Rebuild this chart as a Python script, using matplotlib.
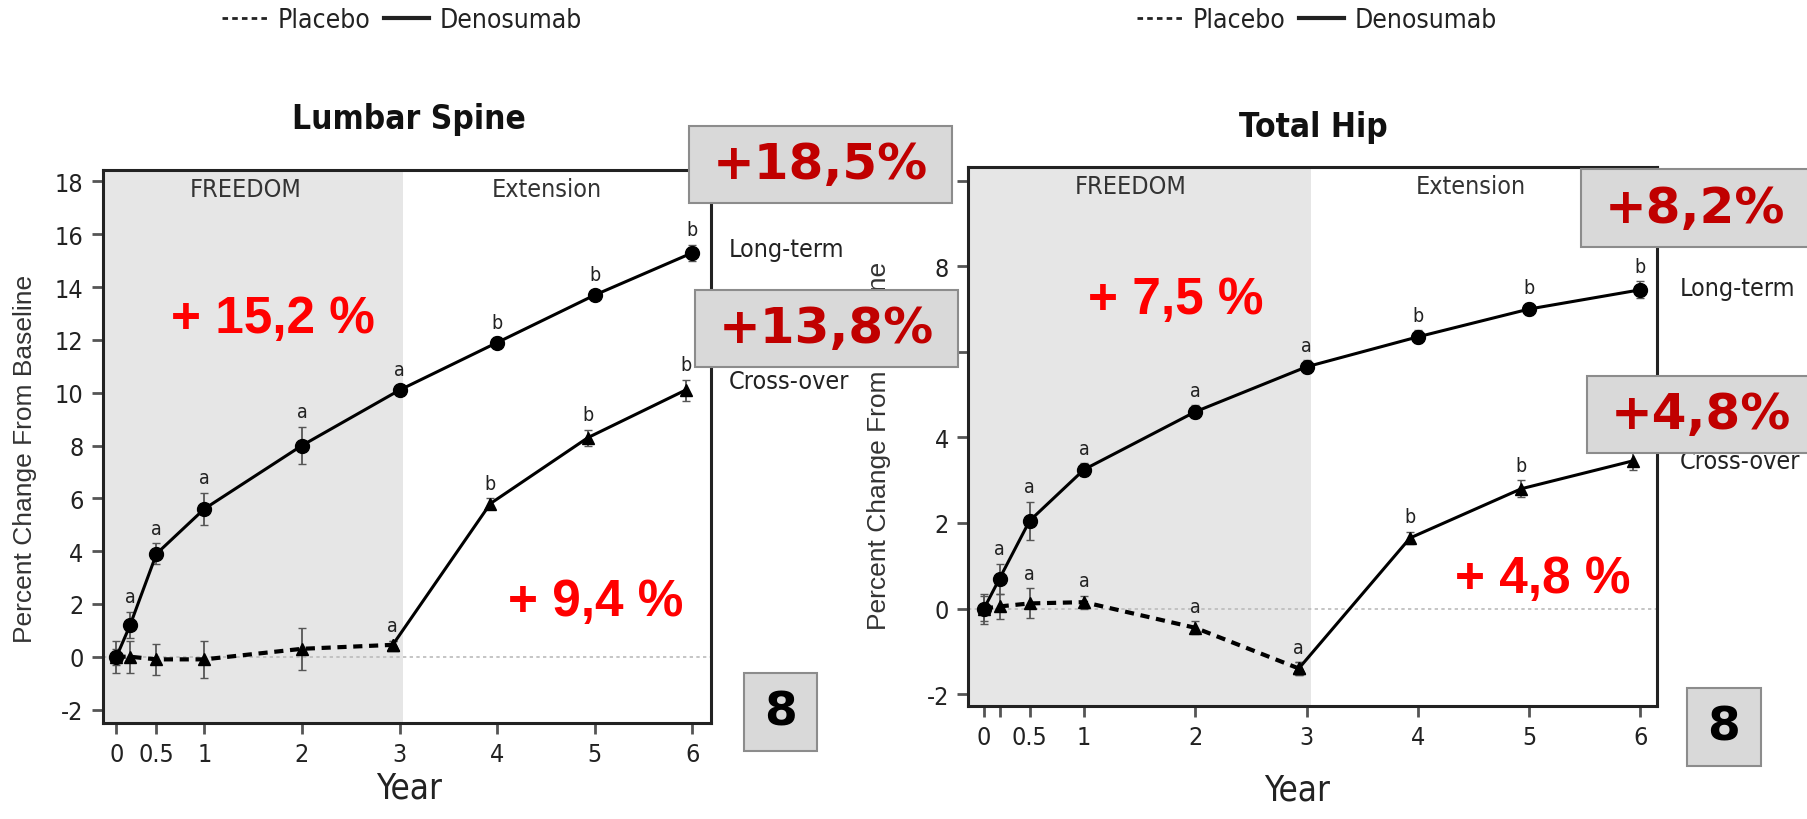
import numpy as np
import matplotlib.pyplot as plt
from matplotlib import font_manager as fm
from matplotlib.patches import Rectangle
from matplotlib.lines import Line2D

W, H = 1808, 820


def narrow_font():
    # SAS-style condensed lettering; take the narrowest face that is around
    for name in ['Liberation Sans Narrow', 'Arial Narrow']:
        try:
            fm.findfont(fm.FontProperties(family=name), fallback_to_default=False)
            return name, 'normal'
        except ValueError:
            pass
    return 'DejaVu Sans', 'condensed'


NARROW, STRETCH = narrow_font()
plt.rcParams['font.family'] = [NARROW, 'DejaVu Sans']
plt.rcParams['font.stretch'] = STRETCH

# ---------------- data ----------------
freedom_years = [0, 1 / 12, 0.5, 1, 2, 3]
all_years = [0, 1 / 12, 0.5, 1, 2, 3, 4, 5, 6]
ext_years = [3, 4, 5, 6]
xtick_vals = [0, 0.5, 1, 2, 3, 4, 5, 6]
xtick_labels = ['0', '0.5', '1', '2', '3', '4', '5', '6']

# Lumbar spine
ls_long = [0, 1.2, 3.9, 5.6, 8.0, 10.1, 11.9, 13.7, 15.3]
ls_long_err = [0.3, 0.5, 0.4, 0.6, 0.7, 0.2, 0.2, 0.2, 0.3]
ls_long_letters = ['', 'a', 'a', 'a', 'a', 'a', 'b', 'b', 'b']
ls_pbo = [0, 0, -0.1, -0.1, 0.3, 0.45]
ls_pbo_err = [0.6, 0.6, 0.6, 0.7, 0.8, 0.15]
ls_pbo_letters = ['', '', '', '', '', 'a']
ls_cross = [0.45, 5.8, 8.3, 10.1]
ls_cross_err = [0.15, 0.2, 0.3, 0.4]
ls_cross_letters = ['', 'b', 'b', 'b']

# Total hip
th_long = [0, 0.7, 2.05, 3.25, 4.6, 5.65, 6.35, 7.0, 7.45]
th_long_err = [0.3, 0.35, 0.45, 0.15, 0.15, 0.15, 0.15, 0.15, 0.2]
th_long_letters = ['', 'a', 'a', 'a', 'a', 'a', 'b', 'b', 'b']
th_pbo = [0, 0.05, 0.12, 0.15, -0.45, -1.4]
th_pbo_err = [0.35, 0.3, 0.35, 0.15, 0.15, 0.15]
th_pbo_letters = ['', '', 'a', 'a', 'a', 'a']
th_cross = [-1.4, 1.65, 2.8, 3.45]
th_cross_err = [0.15, 0.15, 0.2, 0.2]
th_cross_letters = ['', 'b', 'b', 'b']

# year axis is stretched a bit near baseline
xp = [-1, 0, 1 / 12, 0.5, 1, 7]
fp = [-0.9, 0.1, 0.24, 0.51, 1, 7]


def fwd(x):
    return np.interp(x, xp, fp)


def inv(x):
    return np.interp(x, fp, xp)


def fx(px):
    return px / W


def fy(py):
    return 1 - py / H


TRI_SHIFT = 0.07


def letters(ax, xs, ys, errs, labs):
    for x, y, e, s in zip(xs, ys, errs, labs):
        if s:
            ax.annotate(s, (x, y + e), xytext=(0, 4), textcoords='offset points',
                        ha='center', va='bottom', fontsize=14, color='#222')


def panel(ax, long_y, long_err, long_lab, pbo_y, pbo_err, pbo_lab,
          cross_y, cross_err, cross_lab, ylim, yticks, xlim, extra_tick):
    ax.set_xscale('function', functions=(fwd, inv))
    ax.set_xlim(*xlim)
    ax.set_ylim(*ylim)
    ax.axvspan(xlim[0], 3.04, color='#e6e6e6', zorder=0, lw=0)
    ax.axhline(0, color='#bbbbbb', ls=(0, (2, 2)), lw=1.2, zorder=1)

    px = np.array(freedom_years, dtype=float)
    px[-1] -= TRI_SHIFT
    cx = np.array(ext_years, dtype=float) - TRI_SHIFT

    ax.errorbar(all_years, long_y, yerr=long_err, fmt='none', ecolor='#555',
                elinewidth=1.3, capsize=3, zorder=2)
    ax.errorbar(px, pbo_y, yerr=pbo_err, fmt='none', ecolor='#555',
                elinewidth=1.3, capsize=3, zorder=2)
    ax.errorbar(cx, cross_y, yerr=cross_err, fmt='none', ecolor='#555',
                elinewidth=1.3, capsize=3, zorder=2)

    ax.plot(all_years, long_y, color='black', lw=2.2, marker='o', ms=10, zorder=4)
    ax.plot(px, pbo_y, color='black', lw=3, ls=(0, (2.2, 1.6)), marker='^',
            ms=9, zorder=3)
    ax.plot(cx, cross_y, color='black', lw=2.2, marker='^', ms=9, zorder=3)

    letters(ax, all_years, long_y, long_err, long_lab)
    letters(ax, px, pbo_y, pbo_err, pbo_lab)
    letters(ax, cx, cross_y, cross_err, cross_lab)

    ticks = list(xtick_vals)
    labels = list(xtick_labels)
    if extra_tick:
        ticks.insert(1, 1 / 12)
        labels.insert(1, '')
    ax.set_xticks(ticks)
    ax.set_xticklabels(labels)
    ax.set_yticks(yticks)
    ax.set_yticklabels([str(t) for t in yticks])
    ax.tick_params(length=8, width=2, color='#555', labelsize=18,
                   labelcolor='#222', pad=6)
    for sp in ax.spines.values():
        sp.set_linewidth(2.2)
        sp.set_color('#222')

    ax.text(0.235, 0.965, 'FREEDOM', transform=ax.transAxes, ha='center',
            va='center', fontsize=18, color='#333')
    ax.text(0.73, 0.965, 'Extension', transform=ax.transAxes, ha='center',
            va='center', fontsize=18, color='#333')
    ax.set_xlabel('Year', fontsize=25, color='#222')
    ax.set_ylabel('Percent Change From Baseline', fontsize=19, color='#333',
                  family=['Liberation Sans', 'DejaVu Sans'], stretch='normal')


fig = plt.figure(figsize=(W / 100, H / 100), dpi=100)

ax1 = fig.add_axes([fx(103), fy(724), fx(711) - fx(103), fy(170.6) - fy(724)])
panel(ax1, ls_long, ls_long_err, ls_long_letters, ls_pbo, ls_pbo_err,
      ls_pbo_letters, ls_cross, ls_cross_err, ls_cross_letters,
      (-2.51, 18.45), list(range(-2, 19, 2)), (-0.138, 6.19), False)
ax1.yaxis.set_label_coords(-0.109, 0.479)
ax1.xaxis.set_label_coords(0.503, -0.085)

ax2 = fig.add_axes([fx(968.5), fy(706.7), fx(1657) - fx(968.5), fy(168) - fy(706.7)])
panel(ax2, th_long, th_long_err, th_long_letters, th_pbo, th_pbo_err,
      th_pbo_letters, th_cross, th_cross_err, th_cross_letters,
      (-2.27, 10.32), list(range(-2, 11, 2)), (-0.139, 6.15), True)
ax2.yaxis.set_label_coords(-0.113, 0.484)
ax2.xaxis.set_label_coords(0.477, -0.124)

# titles
fig.text(fx(409), fy(119), 'Lumbar Spine', ha='center', va='center',
         fontsize=24, fontweight='bold', color='#111')
fig.text(fx(1313), fy(127), 'Total Hip', ha='center', va='center',
         fontsize=24, fontweight='bold', color='#111')

# legends above each panel
handles = [Line2D([], [], color='#222', lw=2, ls=(0, (2, 1.5))),
           Line2D([], [], color='#222', lw=3)]
for cx_ in (402, 1317):
    fig.legend(handles, ['Placebo', 'Denosumab'], loc='center',
               bbox_to_anchor=(fx(cx_), fy(21)), ncol=2, frameon=False,
               fontsize=19, handlelength=1.7, handletextpad=0.4,
               columnspacing=0.5, labelcolor='#222')

# row labels on the right of each panel
fig.text(fx(729), fy(250), 'Long-term', ha='left', va='center', fontsize=18, color='#222')
fig.text(fx(729), fy(382), 'Cross-over', ha='left', va='center', fontsize=18, color='#222')
fig.text(fx(1680), fy(289), 'Long-term', ha='left', va='center', fontsize=18, color='#222')
fig.text(fx(1680), fy(462), 'Cross-over', ha='left', va='center', fontsize=18, color='#222')

# red annotations
red_kw = dict(ha='center', va='center', fontsize=37, fontweight='bold',
              color='#ff0000', family=['Liberation Sans', 'DejaVu Sans'],
              stretch='normal')
fig.text(fx(273), fy(320), '+ 15,2 %', **red_kw)
fig.text(fx(596), fy(603), '+ 9,4 %', **red_kw)
fig.text(fx(1176), fy(300), '+ 7,5 %', **red_kw)
fig.text(fx(1543), fy(580), '+ 4,8 %', **red_kw)

# grey boxes
boxes = [
    (689, 127, 952, 204, '+18,5%', '#c00000'),
    (695, 291, 958, 368, '+13,8%', '#c00000'),
    (1581, 170, 1812, 248, '+8,2%', '#c00000'),
    (1587, 377, 1812, 454, '+4,8%', '#c00000'),
    (744, 674, 817, 752, '8', 'black'),
    (1687, 689, 1761, 767, '8', 'black'),
]
text_cx = {'+8,2%': 1695, '+4,8%': 1701}
for x0, y0, x1, y1, s, col in boxes:
    fig.add_artist(Rectangle((fx(x0), fy(y1)), fx(x1) - fx(x0), fy(y0) - fy(y1),
                             transform=fig.transFigure, facecolor='#d9d9d9',
                             edgecolor='#8c8c8c', lw=1.5, zorder=10))
    tx = text_cx.get(s, (x0 + x1) / 2)
    fig.text(fx(tx), fy((y0 + y1) / 2), s, ha='center', va='center',
             fontsize=36 if s != '8' else 34, fontweight='bold', color=col,
             family='DejaVu Sans', stretch='normal', zorder=11)

fig.savefig('out.png', dpi=100)
